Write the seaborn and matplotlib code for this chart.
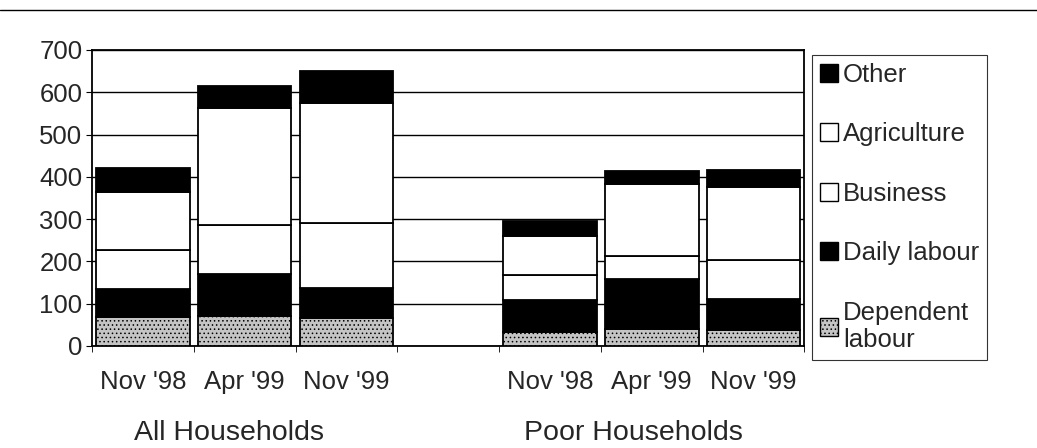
import matplotlib
matplotlib.use("Agg")
import matplotlib.pyplot as plt
from matplotlib.lines import Line2D
from matplotlib.patches import Patch
import seaborn as sns
import pandas as pd
import numpy as np

# -----------------------------
# Data
# -----------------------------
slots = ["All Nov '98", "All Apr '99", "All Nov '99", "",
         "Poor Nov '98", "Poor Apr '99", "Poor Nov '99"]
bar_slots = ["All Nov '98", "All Apr '99", "All Nov '99",
             "Poor Nov '98", "Poor Apr '99", "Poor Nov '99"]
tick_labels = ["Nov '98", "Apr '99", "Nov '99", "", "Nov '98", "Apr '99", "Nov '99"]
groups = ["All Households", "Poor Households"]

dependent_labour = [68, 71, 66, 33, 39, 37]
daily_labour = [67, 100, 70, 75, 119, 75]
business = [92, 114, 155, 59, 56, 92]
agriculture = [137, 279, 283, 92, 170, 171]
other = [58, 52, 76, 37, 30, 42]

series = ["Dependent labour", "Daily labour", "Business", "Agriculture", "Other"]
colors = {"Dependent labour": "#c4c4c4", "Daily labour": "#000000",
          "Business": "#ffffff", "Agriculture": "#ffffff", "Other": "#000000"}
hatches = {"Dependent labour": "...."}
legend_names = {"Dependent labour": "Dependent\nlabour"}

df = pd.DataFrame({"slot": bar_slots,
                   "Dependent labour": dependent_labour,
                   "Daily labour": daily_labour,
                   "Business": business,
                   "Agriculture": agriculture,
                   "Other": other})

# -----------------------------
# Style
# -----------------------------
sns.set_style("white")
plt.rcParams["font.family"] = ["Liberation Sans", "DejaVu Sans"]
plt.rcParams["hatch.linewidth"] = 0.6
FS = 18.5

fig = plt.figure(figsize=(10.37, 4.48), dpi=100)
ax = fig.add_axes([0.0887, 0.2277, 0.687, 0.6607])

# -----------------------------
# Stacked bars
# -----------------------------
bottom = np.zeros(len(df))
for name in series:
    sns.barplot(data=df, x="slot", y=name, order=slots, ax=ax,
                color=colors[name], bottom=bottom, width=0.92,
                edgecolor="black", linewidth=1.3, hatch=hatches.get(name),
                saturation=1, zorder=3)
    bottom = bottom + df[name].values

# -----------------------------
# Axes
# -----------------------------
ax.set_ylim(0, 700)
ax.set_xlim(-0.5, len(slots) - 0.5)
ax.set_yticks(range(0, 701, 100))
ax.yaxis.grid(True, color="black", linewidth=1.0, zorder=0)
ax.set_axisbelow(True)
ax.tick_params(axis="y", labelsize=FS, length=4, left=True, color="black", pad=3)
ax.set_xticks(range(len(slots)))
ax.set_xticklabels(tick_labels, fontsize=FS)
ax.tick_params(axis="x", length=0, pad=17)
ax.set_xticks(np.arange(-0.5, len(slots), 1.0), minor=True)
ax.tick_params(axis="x", which="minor", length=4, bottom=True, color="black")
ax.set_xlabel("")
ax.set_ylabel("")
for sp in ax.spines.values():
    sp.set_visible(True)
    sp.set_color("black")
    sp.set_linewidth(1.3)

# group labels under the ticks
for g, xpos in zip(groups, [0.85, 4.82]):
    ax.text(xpos, -0.295, g, transform=ax.get_xaxis_transform(),
            ha="center", va="center", fontsize=20.5)

# -----------------------------
# Legend
# -----------------------------
handles = [Patch(facecolor=colors[n], edgecolor="black", hatch=hatches.get(n),
                 linewidth=1.0, label=legend_names.get(n, n))
           for n in reversed(series)]
leg = fig.legend(handles=handles, loc="upper left",
                 bbox_to_anchor=(812 / 1037, 1 - 55 / 448),
                 fontsize=FS, frameon=True, fancybox=False,
                 edgecolor="black", handlelength=0.7, handleheight=0.7,
                 handletextpad=0.2, labelspacing=1.38, borderpad=0.3,
                 borderaxespad=0)
leg.get_frame().set_linewidth(0.8)

# top rule across the page
fig.add_artist(Line2D([0, 1], [0.978, 0.978], color="black", linewidth=1.0))

fig.savefig("out.png", dpi=100)
